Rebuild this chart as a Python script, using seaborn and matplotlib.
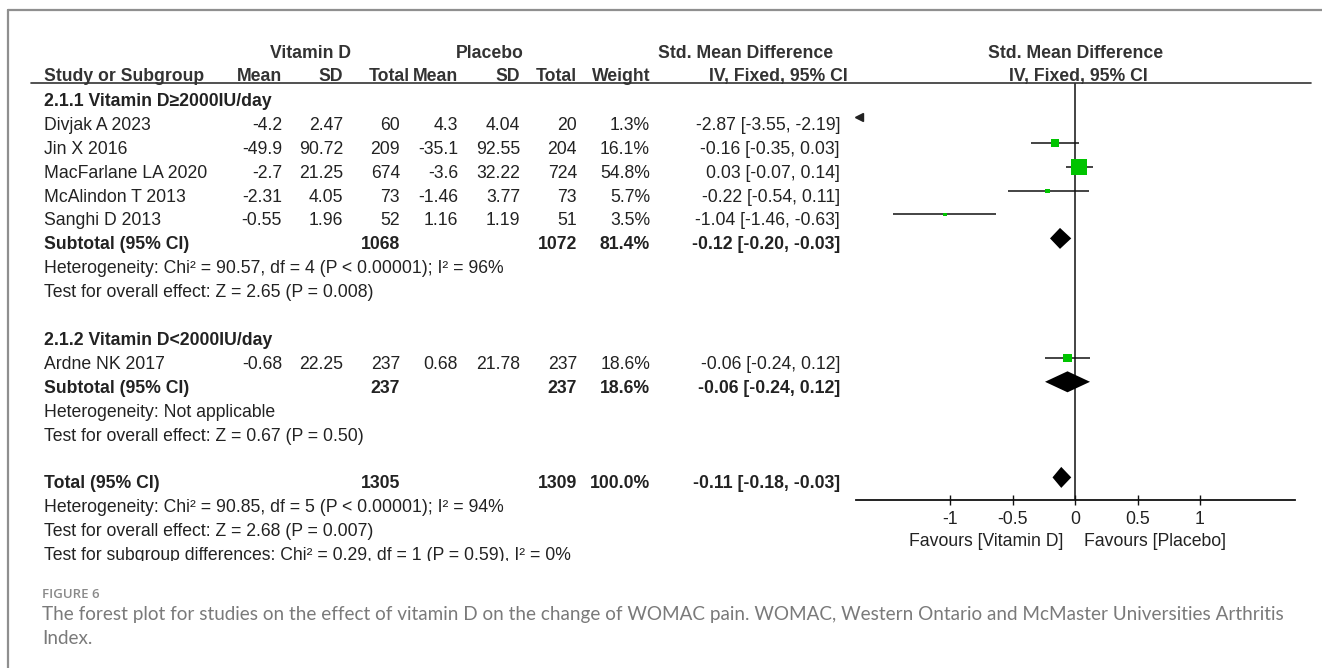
import matplotlib
matplotlib.use("Agg")
import matplotlib.pyplot as plt
import seaborn as sns
import pandas as pd
from matplotlib.lines import Line2D
from matplotlib.patches import Polygon
from matplotlib.transforms import Bbox
from matplotlib.ticker import FuncFormatter

# ---------------- data ----------------
studies = ["Divjak A 2023", "Jin X 2016", "MacFarlane LA 2020",
           "McAlindon T 2013", "Sanghi D 2013", "Ardne NK 2017"]
study_group = [0, 0, 0, 0, 0, 1]
vit_mean = [-4.2, -49.9, -2.7, -2.31, -0.55, -0.68]
vit_sd = [2.47, 90.72, 21.25, 4.05, 1.96, 22.25]
vit_n = [60, 209, 674, 73, 52, 237]
pla_mean = [4.3, -35.1, -3.6, -1.46, 1.16, 0.68]
pla_sd = [4.04, 92.55, 32.22, 3.77, 1.19, 21.78]
pla_n = [20, 204, 724, 73, 51, 237]
weights = [1.3, 16.1, 54.8, 5.7, 3.5, 18.6]
smd = [-2.87, -0.16, 0.03, -0.22, -1.04, -0.06]
ci_lo = [-3.55, -0.35, -0.07, -0.54, -1.46, -0.24]
ci_hi = [-2.19, 0.03, 0.14, 0.11, -0.63, 0.12]

group_titles = ["2.1.1 Vitamin D\u22652000IU/day", "2.1.2 Vitamin D<2000IU/day"]
pooled_labels = ["Subtotal (95% CI)", "Subtotal (95% CI)", "Total (95% CI)"]
pooled_vit_n = [1068, 237, 1305]
pooled_pla_n = [1072, 237, 1309]
pooled_weight = [81.4, 18.6, 100.0]
pooled_smd = [-0.12, -0.06, -0.11]
pooled_lo = [-0.20, -0.24, -0.18]
pooled_hi = [-0.03, 0.12, -0.03]
pooled_notes = [
    ["Heterogeneity: Chi\u00b2 = 90.57, df = 4 (P < 0.00001); I\u00b2 = 96%",
     "Test for overall effect: Z = 2.65 (P = 0.008)"],
    ["Heterogeneity: Not applicable",
     "Test for overall effect: Z = 0.67 (P = 0.50)"],
    ["Heterogeneity: Chi\u00b2 = 90.85, df = 5 (P < 0.00001); I\u00b2 = 94%",
     "Test for overall effect: Z = 2.68 (P = 0.007)",
     "Test for subgroup differences: Chi\u00b2 = 0.29, df = 1 (P = 0.59), I\u00b2 = 0%"],
]
axis_ticks = [-1, -0.5, 0, 0.5, 1]
favours = ["Favours [Vitamin D]", "Favours [Placebo]"]
header1 = ["Vitamin D", "Placebo", "Std. Mean Difference", "Std. Mean Difference"]
header2 = ["Study or Subgroup", "Mean", "SD", "Total", "Mean", "SD", "Total",
           "Weight", "IV, Fixed, 95% CI", "IV, Fixed, 95% CI"]
caption_label = "FIGURE 6"
caption_lines = ["The forest plot for studies on the effect of vitamin D on the change of WOMAC pain. "
                 "WOMAC, Western Ontario and McMaster Universities Arthritis",
                 "Index."]

# ---------------- layout (pixels) ----------------
W, H = 1322, 668
sns.set_theme(style="white")
plt.rcParams["font.family"] = ["Liberation Sans", "DejaVu Sans"]
plt.rcParams["axes.unicode_minus"] = False

FS = 12.7
TXT = "#222222"
HDR = "#333333"
fig = plt.figure(figsize=(W / 100, H / 100), dpi=100)
fig.patch.set_facecolor("white")


def fx(x):
    return x / W


def fy(y):
    return 1 - y / H


def put(x, y, s, ha="left", bold=False, color=TXT, **kw):
    # y = visual centre of capitals; baseline sits ~6 px lower
    return fig.text(fx(x), fy(y + 6), s, ha=ha, va="baseline", fontsize=FS,
                    fontweight="bold" if bold else "normal", color=color, **kw)


ROW0, PITCH = 100, 23.9


def row_y(k):
    return ROW0 + PITCH * k


X_LABEL = 44
COLS = [282, 343, 400, 458, 520, 577, 650, 840]  # right edges of numeric columns
HCOLS = [282, 343, 410, 458, 520, 577, 650]

# frame lines
fig.add_artist(Line2D([fx(8), fx(8)], [fy(10), fy(668)], color="#8f8f8f", lw=1.6))
fig.add_artist(Line2D([fx(8), fx(1322)], [fy(10), fy(10)], color="#8f8f8f", lw=1.6))
fig.add_artist(Line2D([fx(31), fx(1311)], [fy(83), fy(83)], color="#333333", lw=1.2))

# headers
put(310, 52, header1[0], ha="center", bold=True, color=HDR)
put(490, 52, header1[1], ha="center", bold=True, color=HDR)
put(746, 52, header1[2], ha="center", bold=True, color=HDR)
put(1076, 52, header1[3], ha="center", bold=True, color=HDR)
put(X_LABEL, 75, header2[0], bold=True, color=HDR)
for s, x in zip(header2[1:8], HCOLS):
    put(x, 75, s, ha="right", bold=True, color=HDR)
put(848, 75, header2[8], ha="right", bold=True, color=HDR)
put(1078, 75, header2[9], ha="center", bold=True, color=HDR)


def fmt_ci(e, l, h):
    return f"{e:.2f} [{l:.2f}, {h:.2f}]"


# row assignment
study_rows = []
k = 0
pooled_rows = []
note_rows = []
for g in range(2):
    put(X_LABEL, row_y(k), group_titles[g], bold=True)
    k += 1
    for i in range(len(studies)):
        if study_group[i] == g:
            study_rows.append(k)
            k += 1
    pooled_rows.append(k)
    k += 1
    note_rows.append(list(range(k, k + len(pooled_notes[g]))))
    k += len(pooled_notes[g]) + 1
pooled_rows.append(k)
k += 1
note_rows.append(list(range(k, k + len(pooled_notes[2]))))

for i, r in enumerate(study_rows):
    y = row_y(r)
    put(X_LABEL, y, studies[i])
    vals = [str(vit_mean[i]), str(vit_sd[i]), str(vit_n[i]), str(pla_mean[i]),
            str(pla_sd[i]), str(pla_n[i]), f"{weights[i]:.1f}%",
            fmt_ci(smd[i], ci_lo[i], ci_hi[i])]
    for s, x in zip(vals, COLS):
        put(x, y, s, ha="right")

last_note = None
for j, r in enumerate(pooled_rows):
    y = row_y(r)
    put(X_LABEL, y, pooled_labels[j], bold=True)
    put(COLS[2], y, str(pooled_vit_n[j]), ha="right", bold=True)
    put(COLS[5], y, str(pooled_pla_n[j]), ha="right", bold=True)
    put(COLS[6], y, f"{pooled_weight[j]:.1f}%", ha="right", bold=True)
    put(COLS[7], y, fmt_ci(pooled_smd[j], pooled_lo[j], pooled_hi[j]), ha="right", bold=True)
    for note, rr in zip(pooled_notes[j], note_rows[j]):
        last_note = put(X_LABEL, row_y(rr), note)
# the reference crops the final line just below its baseline
clip_y = row_y(note_rows[2][-1]) + 7
last_note.set_clip_box(Bbox.from_extents(0, H - clip_y, W, H))
last_note.set_clip_on(True)

# ---------------- forest axes ----------------
AX_L, AX_R, AX_T, AX_B = 856, 1295, 83, 500
ZERO_PX, UNIT_PX = 1075, 125
ax = fig.add_axes([fx(AX_L), fy(AX_B), (AX_R - AX_L) / W, (AX_B - AX_T) / H])
ax.set_facecolor("none")
xlim = ((AX_L - ZERO_PX) / UNIT_PX, (AX_R - ZERO_PX) / UNIT_PX)
MARK_OFF = -5

df = pd.DataFrame({
    "study": studies, "smd": smd, "lo": ci_lo, "hi": ci_hi, "weight": weights,
    "y": [row_y(r) + MARK_OFF for r in study_rows],
})
ax.hlines(df["y"], df["lo"], df["hi"], color="#111111", lw=1.1)
size_map = {w: (1.42 * w ** 0.6 * 0.72) ** 2 for w in weights}
sns.scatterplot(data=df, x="smd", y="y", size="weight", sizes=size_map, marker="s",
                color="#00c400", linewidth=0, legend=False, ax=ax, zorder=3)

# off-scale arrows
for lo, hi, y in zip(df["lo"], df["hi"], df["y"]):
    if hi < xlim[0]:
        ax.plot([xlim[0] + 0.025], [y - 2], marker="<", ms=5.5, color="#222222",
                clip_on=False, zorder=4)

# diamonds
for j, r in enumerate(pooled_rows):
    yc = row_y(r) + MARK_OFF
    poly = Polygon([[pooled_lo[j], yc], [pooled_smd[j], yc - 10.5],
                    [pooled_hi[j], yc], [pooled_smd[j], yc + 10.5]],
                   closed=True, color="black", lw=0, zorder=3)
    ax.add_patch(poly)

ax.axvline(0, color="#111111", lw=1.1, zorder=1)
ax.set_xlim(*xlim)
ax.set_ylim(AX_B, AX_T)
ax.set_yticks([])
ax.set_xticks(axis_ticks)
ax.xaxis.set_major_formatter(FuncFormatter(lambda v, p: f"{v:g}"))
ax.tick_params(axis="x", direction="inout", length=7.5, width=1.0, pad=4.5,
               labelsize=FS, colors="#111111", labelcolor=TXT, bottom=True)
ax.set_xlabel("")
ax.set_ylabel("")
for side in ["left", "right", "top"]:
    ax.spines[side].set_visible(False)
ax.spines["bottom"].set_color("#111111")
ax.spines["bottom"].set_linewidth(1.3)

put(1063, 540, favours[0], ha="right")
put(1084, 540, favours[1], ha="left")

# ---------------- caption ----------------
fig.text(fx(42), fy(598), caption_label, fontsize=9.5, fontweight="semibold",
         family=["Open Sans", "DejaVu Sans"], color="#8a8a8a", va="baseline")
fig.text(fx(42), fy(620), caption_lines[0], fontsize=13.6, family=["Lato", "DejaVu Sans"],
         color="#7a7a7a", va="baseline")
fig.text(fx(42), fy(644), caption_lines[1], fontsize=13.6, family=["Lato", "DejaVu Sans"],
         color="#7a7a7a", va="baseline")

fig.savefig("out.png", dpi=100, facecolor="white")
